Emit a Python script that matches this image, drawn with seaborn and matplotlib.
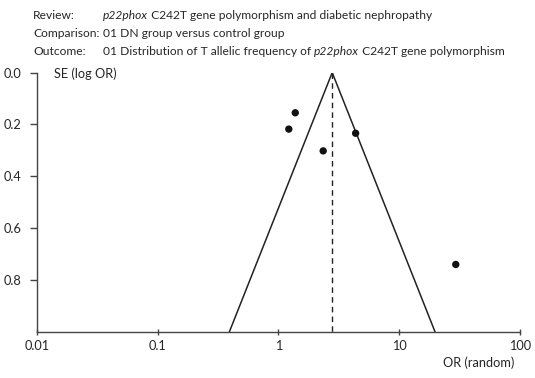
import numpy as np
import pandas as pd
import seaborn as sns
import matplotlib.pyplot as plt

# study estimates
study_or = [1.38, 1.22, 4.36, 2.35, 29.4]
study_se = [0.155, 0.218, 0.234, 0.302, 0.740]
pooled_or = 2.79
se_max = 1.0

x_ticks = [0.01, 0.1, 1, 10, 100]
x_labels = ["0.01", "0.1", "1", "10", "100"]
y_ticks = [0.0, 0.2, 0.4, 0.6, 0.8]
y_labels = ["0.0", "0.2", "0.4", "0.6", "0.8"]

header = [
    ("Review:", [("p22phox", "italic"), (" C242T gene polymorphism and diabetic nephropathy", "normal")]),
    ("Comparison:", [("01 DN group versus control group", "normal")]),
    ("Outcome:", [("01 Distribution of T allelic frequency of ", "normal"), ("p22phox", "italic"),
                  (" C242T gene polymorphism", "normal")]),
]

sns.set_style("white")
plt.rcParams['font.family'] = ['Lato', 'DejaVu Sans']
fs = 9.2

df = pd.DataFrame({"OR": study_or, "SE": study_se})

fig = plt.figure(figsize=(5.35, 3.78), dpi=100)
ax = fig.add_axes([0.0686, 0.122, 0.9034, 0.686])

# funnel (pseudo 95% limits)
se_line = np.array([0.0, se_max])
lo = np.exp(np.log(pooled_or) - 1.96 * se_line)
hi = np.exp(np.log(pooled_or) + 1.96 * se_line)
ax.plot(lo, se_line, color="#222222", lw=1.1)
ax.plot(hi, se_line, color="#222222", lw=1.1)
ax.plot([pooled_or, pooled_or], [0, se_max], color="#222222", lw=1.0, ls=(0, (4, 3)))

sns.scatterplot(data=df, x="OR", y="SE", ax=ax, color="#111111", s=28, edgecolor="none", zorder=3)

ax.set_xscale("log")
ax.set_xlim(0.01, 100)
ax.set_ylim(se_max, 0.0)
ax.set_xticks(x_ticks)
ax.set_xticklabels(x_labels)
ax.minorticks_off()
ax.set_yticks(y_ticks)
ax.set_yticklabels(y_labels)
ax.set_xlabel("")
ax.set_ylabel("")
for s in ["top", "right"]:
    ax.spines[s].set_visible(False)
for s in ["left", "bottom"]:
    ax.spines[s].set_color("#444444")
    ax.spines[s].set_linewidth(1.0)
ax.tick_params(axis="both", length=5, width=1, color="#444444", labelsize=fs, bottom=True, left=True)
ax.tick_params(axis="x", direction="inout", pad=3)
ax.tick_params(axis="y", direction="out", pad=6)

ax.text(0.014, 0.005, "SE (log OR)", fontsize=fs, va="center", ha="left", transform=ax.transData)
fig.text(514 / 535, 1 - 363 / 378, "OR (random)", fontsize=fs, ha="right", va="center")

# header: pick a size so the outcome line spans ~400 px like the reference
fig.canvas.draw()
renderer = fig.canvas.get_renderer()
probe = fig.text(0, 0, "".join(p[0] for p in header[2][1]), fontsize=10)
w10 = probe.get_window_extent(renderer=renderer).width
probe.remove()
hfs = 10 * 405 / w10

rows_y = [15.5, 33.5, 51.5]
for (label, pieces), yy in zip(header, rows_y):
    yf = 1 - yy / 378
    fig.text(33 / 535, yf, label, fontsize=hfs, va="center", ha="left")
    xpix = 103.0
    for txt, style in pieces:
        t = fig.text(xpix / 535, yf, txt, fontsize=hfs, va="center", ha="left", style=style)
        bb = t.get_window_extent(renderer=renderer)
        xpix += bb.width

fig.savefig("out.png", dpi=100)
